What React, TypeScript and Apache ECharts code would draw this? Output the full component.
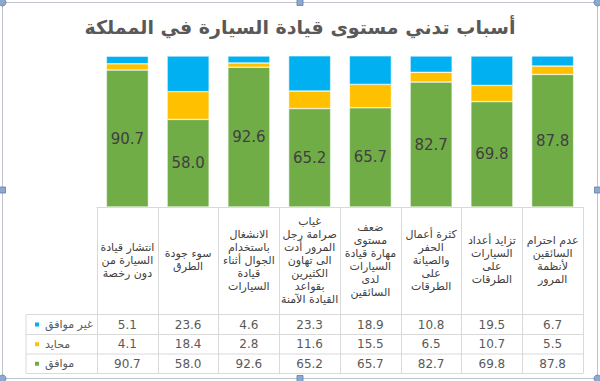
import React, { useEffect, useRef } from "react";
import * as echarts from "echarts";

const titleText = "أسباب تدني مستوى قيادة السيارة في المملكة";

const categories = [
  "انتشار قيادة\nالسيارة من\nدون رخصة",
  "سوء جودة\nالطرق",
  "الانشغال\nباستخدام\nالجوال أثناء\nقيادة\nالسيارات",
  "غياب\nصرامة رجل\nالمرور أدت\nالى تهاون\nالكثيرين\nبقواعد\nالقيادة الآمنة",
  "ضعف\nمستوى\nمهارة قيادة\nالسيارات\nلدى\nالسائقين",
  "كثرة أعمال\nالحفر\nوالصيانة\nعلى\nالطرقات",
  "تزايد أعداد\nالسيارات\nعلى\nالطرقات",
  "عدم احترام\nالسائقين\nلأنظمة\nالمرور",
];

const agree = [90.7, 58.0, 92.6, 65.2, 65.7, 82.7, 69.8, 87.8];
const neutral = [4.1, 18.4, 2.8, 11.6, 15.5, 6.5, 10.7, 5.5];
const disagree = [5.1, 23.6, 4.6, 23.3, 18.9, 10.8, 19.5, 6.7];

const nameAgree = "موافق";
const nameNeutral = "محايد";
const nameDisagree = "غير موافق";

const FONT = "DejaVu Sans";
const GRID_LEFT = 97;
const GRID_RIGHT_X = 583;
const GRID_TOP = 56;
const AXIS_Y = 207;
const ROW_LINES = [314.5, 334.5, 354, 373.5];
const LEGEND_LEFT_X = 26;
const LINE_COLOR = "#d9d9d9";

export default function App() {
  const ref = useRef<HTMLDivElement>(null);

  useEffect(() => {
    if (!ref.current) return;
    const chart = echarts.init(ref.current, null, { renderer: "svg" });

    const rows = [
      { name: nameDisagree, values: disagree },
      { name: nameNeutral, values: neutral },
      { name: nameAgree, values: agree },
    ];
    const rowCenters = rows.map((_, i) => (ROW_LINES[i] + ROW_LINES[i + 1]) / 2);

    const tableAxes = rows.map((r, i) => ({
      type: "category",
      position: "bottom",
      gridIndex: 0,
      data: r.values.map((v) => v.toFixed(1)),
      axisLine: { show: false },
      axisTick: { show: false },
      splitLine: { show: false },
      axisLabel: {
        interval: 0,
        margin: rowCenters[i] - AXIS_Y,
        verticalAlign: "middle",
        color: "#595959",
        fontSize: 12,
        fontFamily: FONT,
      },
    }));

    const legends = rows.map((r, i) => ({
      data: [r.name],
      left: 33,
      top: rowCenters[i] - 7,
      padding: 0,
      icon: "rect",
      itemWidth: 6,
      itemHeight: 6,
      textStyle: { color: "#595959", fontSize: 11, fontFamily: FONT, lineHeight: 14 },
      selectedMode: false,
    }));

    const graphics: any[] = [
      {
        type: "rect",
        shape: { x: 2.5, y: 2.5, width: 595, height: 376 },
        style: { fill: "none", stroke: "#c0c4cc", lineWidth: 1 },
        silent: true,
      },
    ];
    ROW_LINES.forEach((y) => {
      graphics.push({
        type: "line",
        shape: { x1: LEGEND_LEFT_X, y1: y, x2: GRID_RIGHT_X, y2: y },
        style: { stroke: LINE_COLOR, lineWidth: 1 },
        silent: true,
      });
    });
    graphics.push({
      type: "line",
      shape: { x1: LEGEND_LEFT_X, y1: ROW_LINES[0], x2: LEGEND_LEFT_X, y2: ROW_LINES[3] },
      style: { stroke: LINE_COLOR, lineWidth: 1 },
      silent: true,
    });
    // selection handles
    const handleSquares = [
      [300, 2.5],
      [2.5, 190],
      [597.5, 190],
      [300, 378.5],
    ];
    handleSquares.forEach(([x, y]) => {
      graphics.push({
        type: "rect",
        shape: { x: x - 3, y: y - 3, width: 6, height: 6 },
        style: { fill: "#8fa8d0", stroke: "#5a7bb0", lineWidth: 0.8 },
        silent: true,
      });
    });
    const handleCircles = [
      [2.5, 2.5],
      [597.5, 2.5],
      [2.5, 378.5],
      [597.5, 378.5],
    ];
    handleCircles.forEach(([x, y]) => {
      graphics.push({
        type: "circle",
        shape: { cx: x, cy: y, r: 3.5 },
        style: { fill: "#8fa8d0", stroke: "#5a7bb0", lineWidth: 0.8 },
        silent: true,
      });
    });

    const option: any = {
      animation: false,
      backgroundColor: "#ffffff",
      title: {
        text: titleText,
        left: "center",
        top: 12,
        textStyle: { color: "#595959", fontSize: 19, fontWeight: "bold", fontFamily: FONT },
      },
      legend: legends,
      grid: {
        left: GRID_LEFT,
        right: 600 - GRID_RIGHT_X,
        top: GRID_TOP,
        bottom: 381 - AXIS_Y,
        containLabel: false,
      },
      xAxis: [
        {
          type: "category",
          position: "bottom",
          data: categories,
          axisLine: { show: true, lineStyle: { color: LINE_COLOR, width: 1 } },
          axisTick: {
            show: true,
            length: ROW_LINES[3] - AXIS_Y,
            lineStyle: { color: LINE_COLOR, width: 1 },
          },
          axisLabel: {
            interval: 0,
            margin: 53,
            verticalAlign: "middle",
            align: "center",
            color: "#404040",
            fontSize: 11,
            lineHeight: 13,
            fontFamily: FONT,
          },
          splitLine: { show: false },
        },
        ...tableAxes,
      ],
      yAxis: {
        type: "value",
        min: 0,
        max: 100,
        show: false,
        splitLine: { show: false },
      },
      series: [
        {
          name: nameAgree,
          type: "bar",
          stack: "total",
          barWidth: 42,
          data: agree,
          itemStyle: { color: "#70AD47", borderColor: "#ffffff", borderWidth: 0.5 },
          label: {
            show: true,
            position: "inside",
            formatter: (p: any) => Number(p.value).toFixed(1),
            color: "#404040",
            fontSize: 15,
            fontFamily: FONT,
          },
        },
        {
          name: nameNeutral,
          type: "bar",
          stack: "total",
          barWidth: 42,
          data: neutral,
          itemStyle: { color: "#FFC000", borderColor: "#ffffff", borderWidth: 0.5 },
        },
        {
          name: nameDisagree,
          type: "bar",
          stack: "total",
          barWidth: 42,
          data: disagree,
          itemStyle: { color: "#00B0F0", borderColor: "#ffffff", borderWidth: 0.5 },
        },
      ],
      graphic: graphics,
    };

    chart.setOption(option);
    return () => chart.dispose();
  }, []);

  return (
    <div
      ref={ref}
      style={{ position: "fixed", left: 0, top: 0, width: 600, height: 381 }}
    />
  );
}
